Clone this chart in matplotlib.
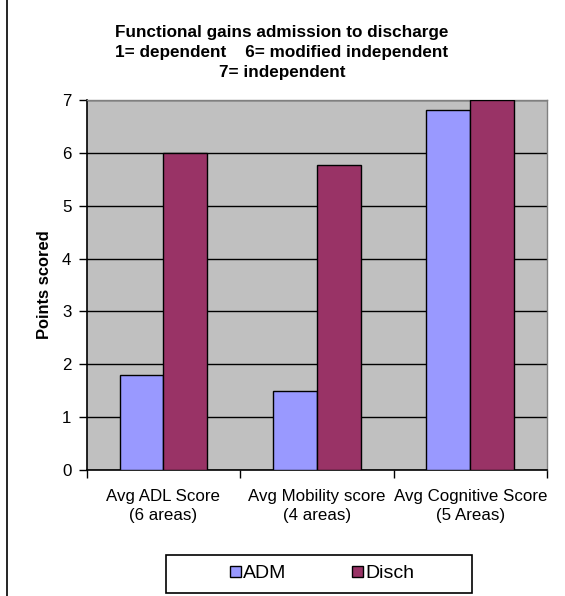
import numpy as np
import matplotlib
matplotlib.use('Agg')
import matplotlib.pyplot as plt
from matplotlib.patches import Rectangle

categories = ["Avg ADL Score\n(6 areas)", "Avg Mobility score\n(4 areas)", "Avg Cognitive Score\n(5 Areas)"]
adm = [1.8, 1.5, 6.82]
disch = [6.0, 5.77, 7.0]
series_names = ["ADM", "Disch"]
title_lines = ["Functional gains admission to discharge",
               "1= dependent    6= modified independent",
               "7= independent"]

plt.rcParams['font.family'] = ['Liberation Sans', 'DejaVu Sans']

W, H = 565, 596
fig = plt.figure(figsize=(W / 100, H / 100), dpi=100)
ax = fig.add_axes([86.7 / W, 1 - 470 / H, (547 - 86.7) / W, 370 / H])
ax.set_facecolor('#C0C0C0')

x = np.arange(len(categories))
w = 1 / 3.5
ax.bar(x - w / 2, adm, w, color='#9999FF', edgecolor='black', linewidth=1, label=series_names[0], zorder=3)
ax.bar(x + w / 2, disch, w, color='#993366', edgecolor='black', linewidth=1, label=series_names[1], zorder=3)

ax.set_xlim(-0.5, 2.5)
ax.set_ylim(0, 7)
ax.set_yticks(range(8))
ax.yaxis.grid(True, color='black', linewidth=1)
ax.set_axisbelow(True)

ax.set_xticks(x)
ax.set_xticklabels(categories, fontsize=12.2, linespacing=1.3)
ax.set_xticks([-0.5, 0.5, 1.5, 2.5], minor=True)
ax.tick_params(axis='x', which='major', length=0, pad=14)
ax.tick_params(axis='x', which='minor', length=6, width=1, direction='out')
ax.tick_params(axis='y', length=6, width=1, labelsize=12.2, pad=5)

for s in ['top', 'right']:
    ax.spines[s].set_color('#808080')
    ax.spines[s].set_linewidth(1)
for s in ['left', 'bottom']:
    ax.spines[s].set_color('black')
    ax.spines[s].set_linewidth(1.2)

ax.set_ylabel("Points scored", fontsize=11.9, fontweight='bold', labelpad=7)

for i, line in enumerate(title_lines):
    fig.text(282 / W, 1 - (32 + 20 * i) / H, line, ha='center', va='center',
             fontsize=12.3, fontweight='bold')

leg = fig.legend(loc='center', bbox_to_anchor=(322 / W, 1 - 574 / H), ncol=2,
                 fontsize=14, frameon=False,
                 handlelength=0.55, handleheight=0.55, handletextpad=0.1,
                 columnspacing=3.4, borderpad=0, borderaxespad=0)
for h in leg.legend_handles:
    h.set_linewidth(1)

# legend box and outer frame
fig.patches.append(Rectangle((166 / W, 1 - 593 / H), 306 / W, 38 / H, transform=fig.transFigure,
                             fill=False, edgecolor='black', linewidth=1.2))
fig.patches.append(Rectangle((7 / W, -0.2), 1.5, 1.2 + 1 - 7 / H, transform=fig.transFigure,
                             fill=False, edgecolor='black', linewidth=1.2))

fig.savefig('out.png', dpi=100)
